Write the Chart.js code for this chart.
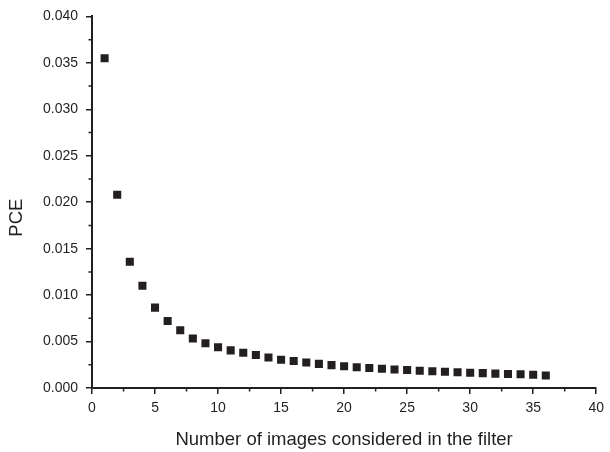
<!DOCTYPE html>
<html>
<head>
<meta charset="utf-8">
<script src="https://cdn.jsdelivr.net/npm/chart.js@4"></script>
<style>
  html, body { margin: 0; padding: 0; background: #fff; }
  #wrap { width: 610px; height: 452px; }
</style>
</head>
<body>
<div id="wrap"><canvas id="pce-chart" width="610" height="452"></canvas></div>
<script>
// number of images used in the filter
const imageCounts = Array.from({ length: 36 }, (_, i) => i + 1);

// PCE measured for each image count
const pceValues = [
  0.0355, 0.0208, 0.0136, 0.0110, 0.00865, 0.00722, 0.00622, 0.00533, 0.00481, 0.00438,
  0.00405, 0.00380, 0.00355, 0.00328, 0.00305, 0.00290, 0.00274, 0.00260, 0.00246, 0.00234,
  0.00224, 0.00215, 0.00207, 0.00199, 0.00193, 0.00186, 0.00180, 0.00175, 0.00169, 0.00164,
  0.00160, 0.00155, 0.00151, 0.00147, 0.00143, 0.00135
];

const xTicks = [0, 5, 10, 15, 20, 25, 30, 35, 40];
const yTicks = [0, 0.005, 0.010, 0.015, 0.020, 0.025, 0.030, 0.035, 0.040];

const ink = '#231f20';
const font = 'Liberation Sans, Arial, Helvetica, sans-serif';

// short minor ticks halfway between the labelled ones
const minorTicks = {
  id: 'minorTicks',
  afterDraw(chart) {
    const { ctx, scales: { x, y } } = chart;
    ctx.save();
    ctx.strokeStyle = ink;
    ctx.lineWidth = 1.5;
    ctx.beginPath();
    for (let i = 0; i < xTicks.length - 1; i++) {
      const px = x.getPixelForValue((xTicks[i] + xTicks[i + 1]) / 2);
      ctx.moveTo(px, y.bottom);
      ctx.lineTo(px, y.bottom + 3.5);
    }
    for (let i = 0; i < yTicks.length - 1; i++) {
      const py = y.getPixelForValue((yTicks[i] + yTicks[i + 1]) / 2);
      ctx.moveTo(x.left, py);
      ctx.lineTo(x.left - 3.5, py);
    }
    ctx.stroke();
    ctx.restore();
  }
};

const ctx = document.getElementById('pce-chart').getContext('2d');

new Chart(ctx, {
  type: 'scatter',
  data: {
    datasets: [{
      label: 'PCE',
      data: imageCounts.map((n, i) => ({ x: n, y: pceValues[i] })),
      pointStyle: 'rect',
      pointRadius: 5.7,
      borderWidth: 0,
      backgroundColor: ink
    }]
  },
  options: {
    responsive: false,
    animation: false,
    layout: { padding: { top: 15, right: 13, left: 0, bottom: 0 } },
    plugins: {
      legend: { display: false },
      tooltip: { enabled: false }
    },
    scales: {
      x: {
        type: 'linear',
        min: 0,
        max: 40,
        afterFit: s => { s.height = 64; },
        afterBuildTicks: s => { s.ticks = xTicks.map(v => ({ value: v })); },
        ticks: {
          padding: 6,
          color: ink,
          font: { family: font, size: 14 },
          callback: v => String(v),
          maxRotation: 0
        },
        grid: { drawOnChartArea: false, drawTicks: true, tickLength: 6, color: ink, lineWidth: 1.5 },
        border: { display: true, color: ink, width: 2 },
        title: {
          display: true,
          text: 'Number of images considered in the filter',
          color: ink,
          font: { family: font, size: 18.5 },
          padding: { top: 0, bottom: 1 }
        }
      },
      y: {
        type: 'linear',
        min: 0,
        max: 0.04,
        afterFit: s => { s.width = 92; },
        afterBuildTicks: s => { s.ticks = yTicks.map(v => ({ value: v })); },
        ticks: {
          padding: 8,
          color: ink,
          font: { family: font, size: 14 },
          callback: v => v.toFixed(3)
        },
        grid: { drawOnChartArea: false, drawTicks: true, tickLength: 6, color: ink, lineWidth: 1.5 },
        border: { display: true, color: ink, width: 2 },
        title: {
          display: true,
          // trailing spaces sit above the rotated word and nudge it a little lower
          text: 'PCE      ',
          color: ink,
          font: { family: font, size: 18.5 },
          padding: { top: 6, bottom: 0 }
        }
      }
    }
  },
  plugins: [minorTicks]
});
</script>
</body>
</html>
